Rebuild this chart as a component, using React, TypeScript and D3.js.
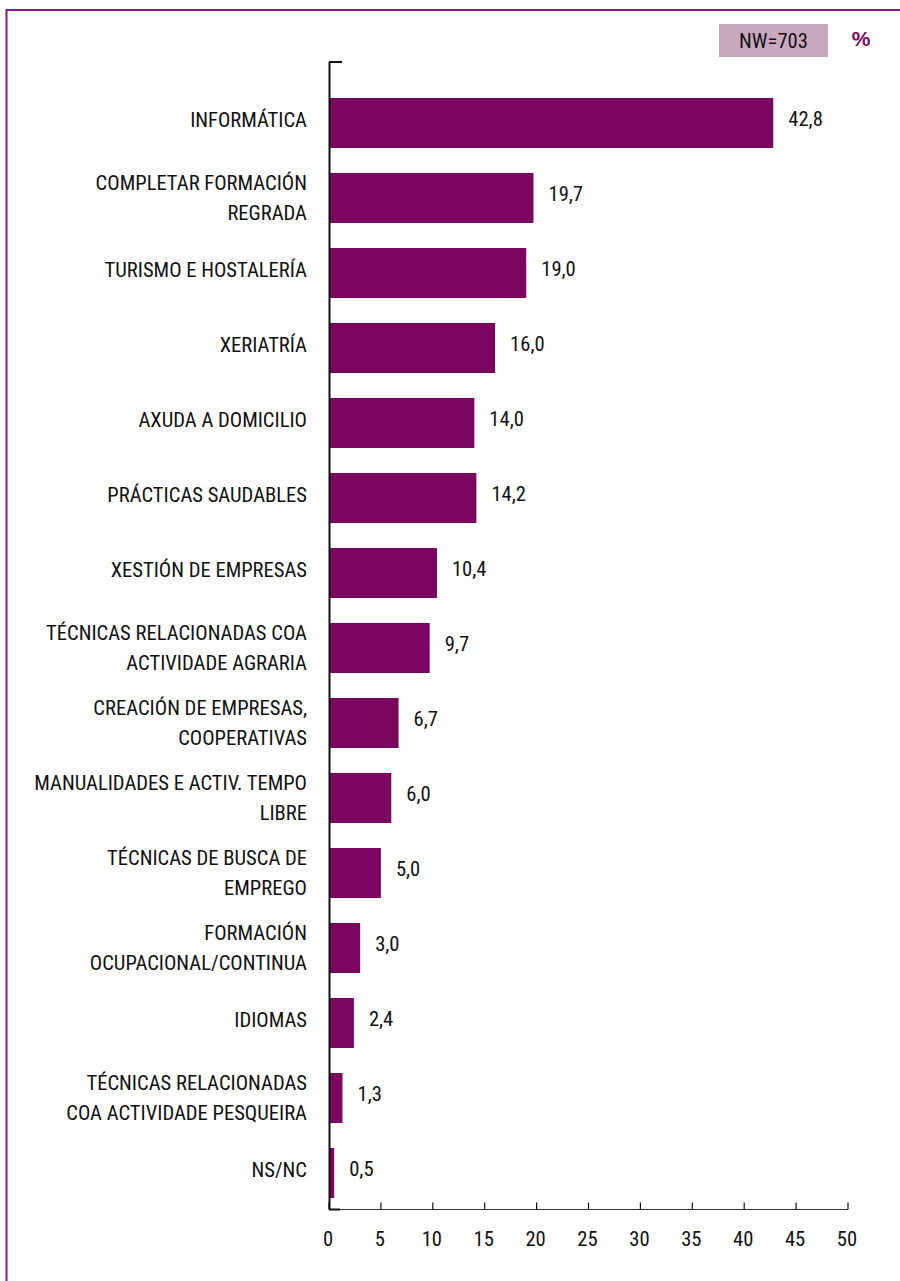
import React from "react";
import * as d3 from "d3";

const categories: string[][] = [
  ["INFORMÁTICA"],
  ["COMPLETAR FORMACIÓN", "REGRADA"],
  ["TURISMO E HOSTALERÍA"],
  ["XERIATRÍA"],
  ["AXUDA A DOMICILIO"],
  ["PRÁCTICAS SAUDABLES"],
  ["XESTIÓN DE EMPRESAS"],
  ["TÉCNICAS RELACIONADAS COA", "ACTIVIDADE AGRARIA"],
  ["CREACIÓN DE EMPRESAS,", "COOPERATIVAS"],
  ["MANUALIDADES E ACTIV. TEMPO", "LIBRE"],
  ["TÉCNICAS DE BUSCA DE", "EMPREGO"],
  ["FORMACIÓN", "OCUPACIONAL/CONTINUA"],
  ["IDIOMAS"],
  ["TÉCNICAS RELACIONADAS", "COA ACTIVIDADE PESQUEIRA"],
  ["NS/NC"],
];
const values: number[] = [42.8, 19.7, 19.0, 16.0, 14.0, 14.2, 10.4, 9.7, 6.7, 6.0, 5.0, 3.0, 2.4, 1.3, 0.5];
const xTicks: number[] = [0, 5, 10, 15, 20, 25, 30, 35, 40, 45, 50];
const sampleLabel = "NW=703";
const unitLabel = "%";

const FONT = "'Liberation Sans Narrow', 'Roboto Condensed', 'Arial Narrow', Roboto, sans-serif";
const BAR = "#7a0660";
const FRAME = "#8e1a80";

export default function App() {
  const W = 900, H = 1281;
  const x = d3.scaleLinear().domain([0, 50]).range([329, 848]);
  const idx = categories.map((_, i) => i);
  const y = d3.scaleBand<number>().domain(idx).range([85.5, 1210.5]).paddingInner(1 / 3).paddingOuter(1 / 6);
  const fmt = (v: number) => v.toFixed(1).replace(".", ",");
  const axisY = 1209.5;
  const fs = 20.6;
  return (
    <svg width={W} height={H} style={{ position: "absolute", left: 0, top: 0, background: "#fff" }} fontFamily={FONT} fontWeight={400}>
      <rect x={6.5} y={10} width={W + 20} height={H + 20} fill="none" stroke={FRAME} strokeWidth={2} />
      <rect x={719} y={24} width={109} height={33} fill="#c9a8bf" />
      <text x={773.5} y={41} fontSize={fs} textAnchor="middle" dominantBaseline="central" fill="#111">{sampleLabel}</text>
      <text x={861} y={38} fontSize={21} fontFamily="'Liberation Sans', Arial, sans-serif" fontWeight="bold" textAnchor="middle" dominantBaseline="central" fill={BAR}>{unitLabel}</text>
      {idx.map((i) => {
        const cy = (y(i) as number) + y.bandwidth() / 2;
        const lines = categories[i];
        const lh = 30;
        const off = lines.length === 1 ? -3 : 0;
        return (
          <g key={i}>
            <rect x={x(0)} y={y(i)} width={x(values[i]) - x(0)} height={y.bandwidth()} fill={BAR} />
            {lines.map((l, j) => (
              <text key={j} x={307} y={cy + off + (j - (lines.length - 1) / 2) * lh} fontSize={fs} textAnchor="end" dominantBaseline="central" fill="#111">{l}</text>
            ))}
            <text x={x(values[i]) + 15} y={cy - 4} fontSize={fs} dominantBaseline="central" fill="#111">{fmt(values[i])}</text>
          </g>
        );
      })}
      <line x1={329.5} x2={329.5} y1={62} y2={axisY} stroke="#111" strokeWidth={2} />
      <line x1={329} x2={342} y1={62} y2={62} stroke="#111" strokeWidth={2} />
      <line x1={329} x2={848} y1={axisY} y2={axisY} stroke="#333" strokeWidth={1.2} />
      <line x1={329} x2={340} y1={axisY} y2={axisY} stroke="#111" strokeWidth={2} />
      {xTicks.map((t) => (
        <g key={t}>
          <line x1={x(t)} x2={x(t)} y1={axisY - 7} y2={axisY} stroke="#111" strokeWidth={1.2} />
          <text x={x(t) - 1} y={1239} fontSize={fs} textAnchor="middle" dominantBaseline="central" fill="#111">{t}</text>
        </g>
      ))}
    </svg>
  );
}
